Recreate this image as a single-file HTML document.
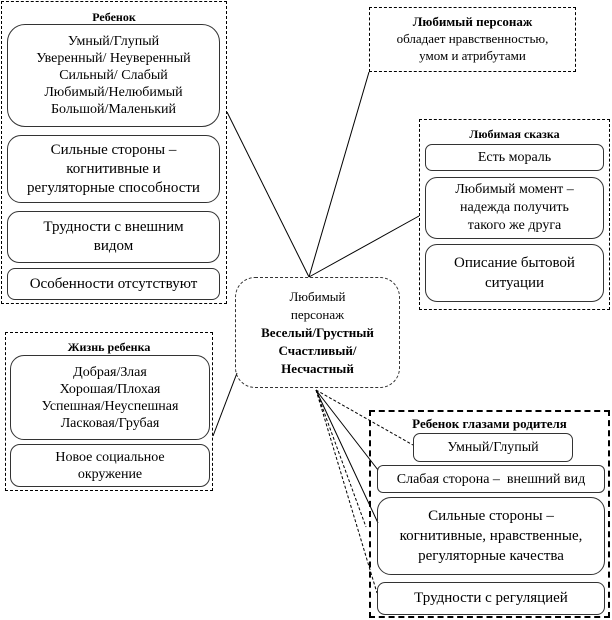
<!DOCTYPE html>
<html><head><meta charset="utf-8"><style>
body{margin:0;width:612px;height:620px;background:#fff;position:relative;overflow:hidden;font-family:"Liberation Serif","DejaVu Serif",serif;color:#000}
.o{position:absolute;border:1px dashed #000;box-sizing:border-box}
.b{position:absolute;border:1px solid #333;box-sizing:border-box;display:flex;align-items:center;justify-content:center;text-align:center;font-size:14px;line-height:17px}
.t{position:absolute;left:0;right:0;text-align:center;font-weight:bold;font-size:12px}
svg{position:absolute;left:0;top:0}
</style></head><body>
<svg width="612" height="620">
<g stroke="#000" stroke-width="1" fill="none">
<line x1="227" y1="112" x2="309" y2="277"/>
<line x1="369" y1="72" x2="309" y2="277"/>
<line x1="419" y1="216" x2="309" y2="277"/>
<line x1="237" y1="373" x2="213" y2="436"/>
<line x1="316" y1="390" x2="378" y2="470"/>
<line x1="316" y1="390" x2="378" y2="523"/>
<line x1="316" y1="390" x2="413" y2="445" stroke-dasharray="3,2"/>
<line x1="316" y1="390" x2="377" y2="593" stroke-dasharray="3,2"/>
<line x1="316" y1="390" x2="366" y2="527" stroke-dasharray="3,2"/>
</g></svg>

<div class="o" style="left:1px;top:1px;width:226px;height:303px">
<div class="t" style="top:8px">Ребенок</div></div>
<div class="b" style="left:7px;top:24px;width:213px;height:103px;border-radius:18px"><div>Умный/Глупый<br>Уверенный/ Неуверенный<br>Сильный/ Слабый<br>Любимый/Нелюбимый<br>Большой/Маленький</div></div>
<div class="b" style="left:7px;top:135px;width:213px;height:68px;border-radius:14px;font-size:15px;line-height:19px"><div>Сильные стороны –<br>когнитивные и<br>регуляторные способности</div></div>
<div class="b" style="left:7px;top:211px;width:213px;height:52px;border-radius:12px;font-size:15px;line-height:19px"><div>Трудности с внешним<br>видом</div></div>
<div class="b" style="left:7px;top:268px;width:213px;height:32px;border-radius:8px;font-size:15px"><div>Особенности отсутствуют</div></div>

<div class="o" style="left:369px;top:7px;width:207px;height:65px;font-size:13px;line-height:17px;text-align:center;padding-top:5px">
<b>Любимый персонаж</b><br>обладает нравственностью,<br>умом и атрибутами</div>

<div class="o" style="left:419px;top:119px;width:191px;height:191px">
<div class="t" style="top:7px">Любимая сказка</div></div>
<div class="b" style="left:425px;top:144px;width:179px;height:27px;border-radius:7px"><div>Есть мораль</div></div>
<div class="b" style="left:425px;top:177px;width:179px;height:62px;border-radius:12px;line-height:18px"><div>Любимый момент –<br>надежда получить<br>такого же друга</div></div>
<div class="b" style="left:425px;top:244px;width:179px;height:58px;border-radius:12px;font-size:15px;line-height:20px"><div>Описание бытовой<br>ситуации</div></div>

<div class="b" style="left:235px;top:277px;width:165px;height:111px;border-radius:20px;border-style:dashed;font-size:13px;line-height:18px"><div>Любимый<br>персонаж<br><b>Веселый/Грустный<br>Счастливый/<br>Несчастный</b></div></div>

<div class="o" style="left:5px;top:332px;width:208px;height:159px">
<div class="t" style="top:7px">Жизнь ребенка</div></div>
<div class="b" style="left:10px;top:355px;width:200px;height:85px;border-radius:14px"><div>Добрая/Злая<br>Хорошая/Плохая<br>Успешная/Неуспешная<br>Ласковая/Грубая</div></div>
<div class="b" style="left:10px;top:444px;width:200px;height:43px;border-radius:10px"><div>Новое социальное<br>окружение</div></div>

<div class="o" style="left:369px;top:410px;width:241px;height:208px;border-width:2px">
<div class="t" style="top:4px;font-size:13px">Ребенок глазами родителя</div></div>
<div class="b" style="left:413px;top:433px;width:160px;height:29px;border-radius:7px"><div>Умный/Глупый</div></div>
<div class="b" style="left:377px;top:465px;width:228px;height:28px;border-radius:6px"><div>Слабая сторона –&nbsp; внешний вид</div></div>
<div class="b" style="left:377px;top:497px;width:228px;height:78px;border-radius:14px;font-size:15px;line-height:20px"><div>Сильные стороны –<br>когнитивные, нравственные,<br>регуляторные качества</div></div>
<div class="b" style="left:377px;top:582px;width:228px;height:33px;border-radius:8px;font-size:15px"><div>Трудности с регуляцией</div></div>
</body></html>
